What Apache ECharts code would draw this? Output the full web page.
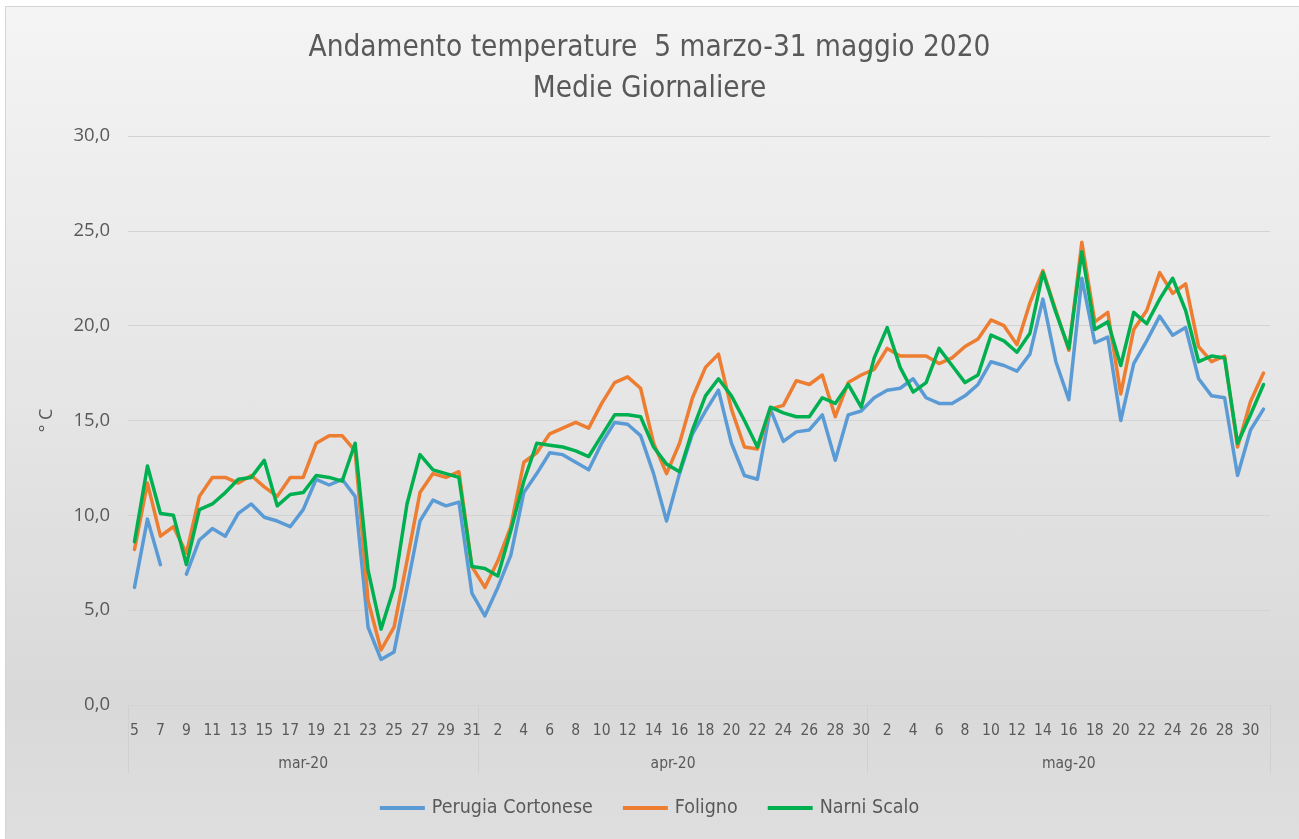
<!DOCTYPE html>
<html>
<head>
<meta charset="utf-8">
<script src="https://cdn.jsdelivr.net/npm/echarts@6/dist/echarts.min.js"></script>
<style>
  html, body { margin: 0; padding: 0; background: #ffffff; }
  #bg { position: absolute; left: 5px; top: 6px; width: 1294px; height: 833px; box-sizing: border-box;
        border-left: 1px solid #d4d4d4; border-top: 1px solid #d4d4d4;
        background: linear-gradient(to bottom, #f4f4f4 0%, #e6e6e6 45%, #d9d9d9 83%, #dedede 100%); }
  #chart { position: absolute; left: 0; top: 0; width: 1299px; height: 839px; }
</style>
</head>
<body>
<div id="bg"></div>
<div id="chart"></div>
<script>
// ---- data ----
const monthNames = ['mar-20', 'apr-20', 'mag-20'];
const monthFirstDay = [5, 1, 1];
const monthLastDay = [31, 30, 31];

const perugia = [
  6.2, 9.8, 7.4, null, 6.9, 8.7, 9.3, 8.9, 10.1, 10.6, 9.9, 9.7, 9.4, 10.3, 11.9, 11.6, 11.9, 11.0, 4.1, 2.4, 2.8, 6.2, 9.7, 10.8, 10.5, 10.7, 5.9,
  4.7, 6.2, 7.9, 11.2, 12.2, 13.3, 13.2, 12.8, 12.4, 13.8, 14.9, 14.8, 14.2, 12.2, 9.7, 12.2, 14.3, 15.5, 16.6, 13.8, 12.1, 11.9, 15.6, 13.9, 14.4, 14.5, 15.3, 12.9, 15.3, 15.5,
  16.2, 16.6, 16.7, 17.2, 16.2, 15.9, 15.9, 16.3, 16.9, 18.1, 17.9, 17.6, 18.5, 21.4, 18.1, 16.1, 22.5, 19.1, 19.4, 15.0, 18.0, 19.2, 20.5, 19.5, 19.9, 17.2, 16.3, 16.2, 12.1, 14.5, 15.6
];
const foligno = [
  8.2, 11.7, 8.9, 9.4, 8.0, 11.0, 12.0, 12.0, 11.7, 12.1, 11.5, 11.0, 12.0, 12.0, 13.8, 14.2, 14.2, 13.4, 5.5, 2.9, 4.1, 7.6, 11.2, 12.2, 12.0, 12.3, 7.3,
  6.2, 7.6, 9.4, 12.8, 13.3, 14.3, 14.6, 14.9, 14.6, 15.9, 17.0, 17.3, 16.7, 13.8, 12.2, 13.8, 16.2, 17.8, 18.5, 15.6, 13.6, 13.5, 15.6, 15.8, 17.1, 16.9, 17.4, 15.2, 17.0, 17.4,
  17.7, 18.8, 18.4, 18.4, 18.4, 18.0, 18.3, 18.9, 19.3, 20.3, 20.0, 19.0, 21.2, 22.9, 20.8, 18.7, 24.4, 20.2, 20.7, 16.4, 19.8, 20.8, 22.8, 21.7, 22.2, 18.9, 18.1, 18.4, 13.6, 16.0, 17.5
];
const narni = [
  8.6, 12.6, 10.1, 10.0, 7.4, 10.3, 10.6, 11.2, 11.9, 12.0, 12.9, 10.5, 11.1, 11.2, 12.1, 12.0, 11.8, 13.8, 7.1, 4.0, 6.2, 10.6, 13.2, 12.4, 12.2, 12.0, 7.3,
  7.2, 6.8, 9.2, 11.8, 13.8, 13.7, 13.6, 13.4, 13.1, 14.2, 15.3, 15.3, 15.2, 13.6, 12.7, 12.3, 14.5, 16.3, 17.2, 16.3, 15.0, 13.6, 15.7, 15.4, 15.2, 15.2, 16.2, 15.9, 16.9, 15.7,
  18.3, 19.9, 17.8, 16.5, 17.0, 18.8, 17.9, 17.0, 17.4, 19.5, 19.2, 18.6, 19.6, 22.8, 20.7, 18.8, 23.9, 19.8, 20.2, 17.9, 20.7, 20.1, 21.4, 22.5, 20.8, 18.1, 18.4, 18.3, 13.8, 15.3, 16.9
];
const yTicks = [0, 5, 10, 15, 20, 25, 30];
const seriesNames = ['Perugia Cortonese', 'Foligno', 'Narni Scalo'];

// categories: one per day (month index | day)
const categories = [];
const monthStart = [];
monthNames.forEach((m, mi) => {
  monthStart.push(categories.length);
  for (let d = monthFirstDay[mi]; d <= monthLastDay[mi]; d++) categories.push(mi + '|' + d);
});
const nCat = categories.length;
const monthBounds = monthStart.concat([nCat]);
const monthCenters = monthNames.map((m, i) => (monthBounds[i] + monthBounds[i + 1]) / 2);

const narrow = "'Liberation Sans Narrow', 'DejaVu Sans Condensed', 'Roboto Condensed', sans-serif";
const txt = '#595959';

const chart = echarts.init(document.getElementById('chart'), null, { renderer: 'canvas' });
chart.setOption({
  backgroundColor: 'transparent',
  animation: false,
  title: {
    text: 'Andamento temperature  5 marzo-31 maggio 2020\nMedie Giornaliere',
    left: 'center',
    top: 23,
    textStyle: { fontFamily: narrow, fontSize: 29.5, fontWeight: 'normal', color: txt, lineHeight: 41, align: 'center' }
  },
  legend: {
    data: seriesNames,
    bottom: 16,
    left: 'center',
    icon: 'rect',
    itemWidth: 45,
    itemHeight: 4,
    itemGap: 30,
    textStyle: { fontFamily: narrow, fontSize: 19.5, color: txt, padding: [0, 0, 0, 2] }
  },
  grid: { left: 128, right: 29, top: 136, bottom: 134, containLabel: false },
  xAxis: [
    {
      type: 'category',
      data: categories,
      boundaryGap: true,
      axisLine: { show: true, lineStyle: { color: '#d4d4d4', width: 1 } },
      axisTick: { show: false },
      axisLabel: {
        interval: 1,
        margin: 18,
        color: txt,
        fontFamily: narrow,
        fontSize: 15.5,
        formatter: v => v.split('|')[1]
      },
      splitLine: { show: false }
    },
    {
      type: 'value',
      min: 0,
      max: nCat,
      position: 'bottom',
      axisLine: { show: false },
      splitLine: { show: false },
      axisTick: {
        show: true,
        customValues: monthBounds,
        length: 68,
        inside: false,
        lineStyle: { color: '#d0d0d0', width: 1 }
      },
      axisLabel: {
        customValues: monthCenters,
        margin: 51,
        color: txt,
        fontFamily: narrow,
        fontSize: 15.5,
        formatter: v => {
          const i = monthCenters.indexOf(v);
          return i >= 0 ? monthNames[i] : '';
        }
      }
    }
  ],
  yAxis: {
    type: 'value',
    min: yTicks[0],
    max: yTicks[yTicks.length - 1],
    interval: 5,
    name: '° C',
    nameLocation: 'middle',
    nameRotate: 90,
    nameGap: 72,
    nameTextStyle: { color: txt, fontFamily: "'Open Sans', 'Noto Sans', sans-serif", fontSize: 18 },
    axisLine: { show: false },
    axisTick: { show: false },
    axisLabel: {
      margin: 18,
      color: txt,
      fontFamily: "'Open Sans', 'Noto Sans', sans-serif",
      fontSize: 18.5,
      formatter: v => v.toFixed(1).replace('.', ',')
    },
    splitLine: { show: true, lineStyle: { color: '#d3d3d3', width: 1 } }
  },
  series: [
    { name: seriesNames[0], type: 'line', data: perugia, symbol: 'none', connectNulls: false,
      lineStyle: { color: '#5b9bd5', width: 3.5, join: 'round', cap: 'round' }, itemStyle: { color: '#5b9bd5' } },
    { name: seriesNames[1], type: 'line', data: foligno, symbol: 'none',
      lineStyle: { color: '#ed7d31', width: 3.5, join: 'round', cap: 'round' }, itemStyle: { color: '#ed7d31' } },
    { name: seriesNames[2], type: 'line', data: narni, symbol: 'none',
      lineStyle: { color: '#00b050', width: 3.5, join: 'round', cap: 'round' }, itemStyle: { color: '#00b050' } }
  ]
});
</script>
</body>
</html>
